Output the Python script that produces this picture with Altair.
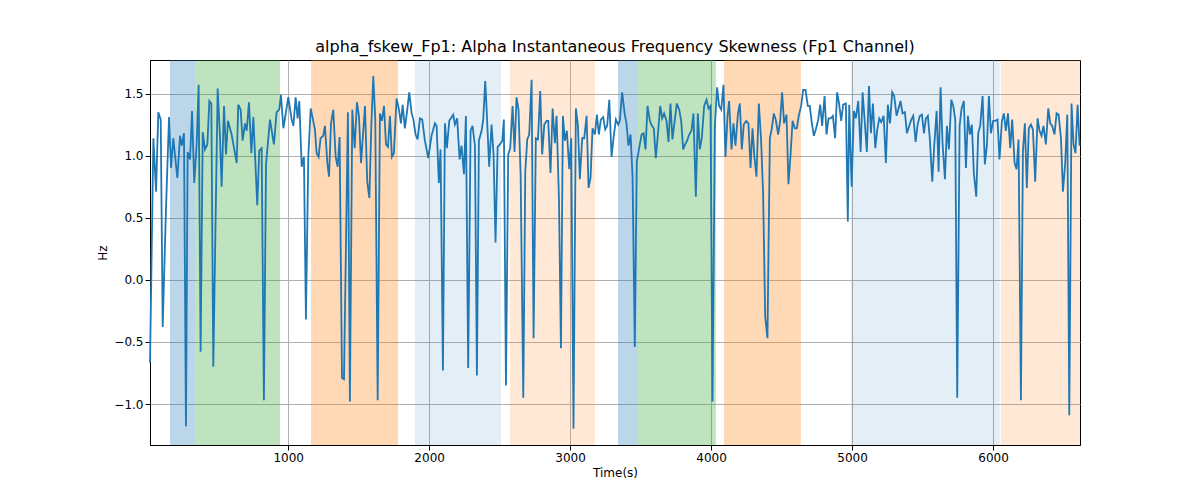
import altair as alt
import pandas as pd

pts = [
(20,-0.67),(44,1.14),(63,0.71),(79,1.35),(96,1.29),(110,-0.38),(133,0.56),(155,1.31),(169,0.90),(185,1.14),
(214,0.82),(233,1.16),(245,1.08),(261,1.18),(275,-1.18),(287,1.03),(304,0.97),(318,1.36),(334,0.78),(351,1.09),
(365,1.57),(379,-0.58),(394,1.19),(410,1.05),(427,1.09),(441,1.44),(455,1.42),(469,-0.70),(500,1.54),(516,1.16),
(528,0.75),(545,1.40),(559,1.01),(573,1.28),(599,1.17),(635,0.94),(646,1.41),(663,1.37),(677,1.12),(694,1.26),
(706,1.20),(722,1.43),(739,1.02),(753,1.31),(781,0.60),(795,1.04),(812,1.06),(828,-0.97),(843,0.93),(871,1.29),
(899,1.09),(918,1.35),(937,1.37),(949,1.49),(966,1.22),(1001,1.47),(1025,1.29),(1037,1.24),(1053,1.47),(1067,1.30),
(1079,1.44),(1096,0.91),(1112,0.99),(1126,-0.32),(1143,0.99),(1160,1.38),(1190,1.21),(1202,1.02),(1216,0.99),(1230,1.14),
(1249,1.16),(1261,1.24),(1278,0.94),(1290,0.83),(1304,1.26),(1320,1.37),(1337,0.99),(1351,0.91),(1365,1.15),(1382,-0.79),
(1396,-0.80),(1424,1.35),(1438,-0.98),(1455,1.37),(1472,1.06),(1488,1.43),(1502,1.32),(1517,0.94),(1545,1.40),(1561,0.79),
(1576,0.66),(1590,1.24),(1604,1.64),(1618,1.29),(1635,-0.97),(1651,1.34),(1665,1.28),(1680,1.40),(1694,1.09),(1708,1.07),
(1722,1.32),(1736,0.99),(1750,1.02),(1769,1.46),(1786,1.37),(1800,1.26),(1812,1.41),(1828,1.22),(1845,1.37),(1859,1.51),
(1876,1.34),(1887,1.30),(1904,1.17),(1918,1.13),(1935,1.30),(1951,1.29),(1970,1.12),(1994,0.98),(2017,1.16),(2041,1.26),
(2053,1.24),(2069,0.78),(2081,1.05),(2098,-0.73),(2112,1.26),(2126,1.06),(2143,1.28),(2171,1.33),(2183,1.25),(2199,1.30),
(2216,0.97),(2230,1.08),(2247,0.85),(2261,1.32),(2277,-0.71),(2294,1.20),(2308,1.24),(2325,1.08),(2339,-0.77),(2353,1.12),
(2372,1.20),(2384,1.29),(2398,1.60),(2408,1.37),(2426,0.91),(2443,1.25),(2457,1.01),(2471,0.30),(2486,1.07),(2502,1.09),
(2519,1.12),(2530,1.29),(2545,-0.85),(2561,1.01),(2575,1.06),(2592,1.40),(2606,1.03),(2620,1.47),(2634,1.37),(2649,0.85),
(2668,-0.95),(2682,0.87),(2696,1.13),(2710,1.17),(2727,1.61),(2741,-0.47),(2757,1.14),(2772,1.13),(2788,1.52),(2802,1.01),
(2817,1.25),(2833,1.28),(2845,1.28),(2861,0.86),(2876,1.38),(2892,1.10),(2904,1.32),(2921,0.65),(2935,-0.55),(2949,1.32),
(2963,1.12),(2977,1.20),(2994,0.89),(3008,1.14),(3024,-1.20),(3041,1.38),(3055,1.25),(3069,0.81),(3086,1.14),(3100,1.14),
(3117,1.32),(3131,0.74),(3145,0.82),(3159,1.22),(3176,1.17),(3190,1.33),(3204,1.17),(3218,1.29),(3235,1.31),(3249,1.21),
(3263,1.24),(3278,1.45),(3294,0.99),(3310,1.16),(3325,1.29),(3341,1.25),(3353,1.28),(3369,1.51),(3388,1.33),(3400,1.26),
(3414,1.08),(3429,1.17),(3443,0.83),(3459,-0.54),(3473,0.95),(3490,1.06),(3507,1.17),(3521,1.18),(3535,1.05),(3549,1.40),
(3566,1.28),(3580,1.24),(3594,1.22),(3608,0.98),(3625,1.20),(3639,1.40),(3653,1.30),(3667,1.34),(3684,1.28),(3698,1.11),
(3712,1.42),(3726,1.13),(3743,1.29),(3757,1.42),(3774,1.37),(3788,1.28),(3802,1.05),(3816,1.09),(3830,1.12),(3845,1.17),
(3861,1.20),(3875,1.34),(3892,0.67),(3906,1.34),(3920,1.05),(3934,1.14),(3951,1.40),(3968,1.45),(3982,1.38),(3996,1.40),
(4010,-0.98),(4027,1.24),(4043,1.55),(4057,1.40),(4072,1.37),(4088,1.57),(4102,0.99),(4117,1.32),(4128,1.44),(4145,1.05),
(4159,1.26),(4173,1.08),(4190,1.33),(4204,1.42),(4218,1.05),(4232,1.25),(4249,1.28),(4265,1.26),(4280,0.90),(4294,1.22),
(4308,0.98),(4322,0.83),(4339,1.42),(4355,1.12),(4369,0.70),(4384,-0.30),(4400,-0.47),(4417,1.14),(4431,1.22),(4445,1.34),
(4459,1.29),(4476,1.17),(4490,1.28),(4504,1.51),(4518,1.26),(4535,1.33),(4549,0.77),(4564,1.01),(4578,1.28),(4594,1.22),
(4608,1.22),(4622,1.32),(4639,1.40),(4653,1.53),(4670,1.53),(4686,1.40),(4700,1.40),(4715,1.26),(4729,1.16),(4743,1.21),
(4760,1.29),(4774,1.41),(4788,1.24),(4805,1.48),(4819,1.17),(4833,1.30),(4849,1.30),(4864,1.32),(4880,1.14),(4894,1.51),
(4908,1.42),(4923,1.28),(4937,1.41),(4956,1.42),(4970,0.47),(4980,1.41),(4997,0.75),(5013,1.36),(5027,1.30),(5044,1.44),
(5061,1.03),(5075,1.51),(5091,1.26),(5105,1.03),(5120,1.56),(5134,1.18),(5148,1.42),(5165,1.06),(5179,1.21),(5193,1.30),
(5207,1.27),(5224,1.32),(5240,0.94),(5254,1.41),(5269,1.26),(5285,1.51),(5299,1.48),(5316,1.32),(5330,1.38),(5344,1.44),
(5358,1.34),(5375,1.35),(5389,1.18),(5406,1.24),(5420,1.29),(5434,1.32),(5451,1.11),(5465,1.25),(5481,1.32),(5496,1.33),
(5510,1.18),(5524,1.30),(5538,1.32),(5552,1.13),(5569,0.79),(5583,1.08),(5600,1.36),(5614,0.87),(5628,1.55),(5642,1.10),
(5659,0.81),(5673,1.24),(5687,1.05),(5704,1.45),(5718,1.40),(5732,1.29),(5746,-0.95),(5763,1.24),(5777,1.38),(5793,1.44),
(5808,0.90),(5822,1.32),(5836,1.17),(5850,1.25),(5864,0.86),(5881,0.67),(5895,1.18),(5909,1.24),(5926,1.48),(5942,0.93),
(5957,1.09),(5971,1.48),(5985,1.18),(6001,1.28),(6018,1.28),(6032,1.29),(6046,0.97),(6063,1.28),(6077,1.34),(6091,1.20),
(6106,1.34),(6122,1.06),(6136,1.29),(6153,0.94),(6167,0.89),(6181,1.13),(6198,-0.97),(6212,1.03),(6226,1.26),(6240,0.74),
(6254,1.22),(6269,1.25),(6283,1.21),(6299,0.79),(6316,1.30),(6330,1.20),(6344,1.16),(6358,1.24),(6375,1.09),(6392,1.38),
(6406,1.26),(6420,1.24),(6436,1.17),(6451,1.34),(6465,1.33),(6482,1.14),(6496,0.71),(6512,0.94),(6527,1.33),(6541,-1.09),
(6557,1.42),(6571,1.09),(6585,1.02),(6600,1.41),(6614,1.08),
]
times = [p[0] for p in pts]
values = [p[1] for p in pts]

band_start = [162, 340, 1162, 1900, 2573, 3340, 3481, 4091, 4992, 6055]
band_end = [340, 942, 1779, 2510, 3176, 3481, 4034, 4637, 6048, 6617]
band_color = ["#1f77b4", "#2ca02c", "#ff7f0e", "#1f77b4", "#ff7f0e",
              "#1f77b4", "#2ca02c", "#ff7f0e", "#1f77b4", "#ff7f0e"]
band_opacity = [0.3, 0.3, 0.3, 0.12, 0.17, 0.3, 0.3, 0.3, 0.12, 0.17]

df = pd.DataFrame({"t": times, "v": values})
bands = pd.DataFrame({"s": band_start, "e": band_end, "c": band_color, "o": band_opacity})

xs = alt.Scale(domain=[20, 6617], nice=False, zero=False)
ys = alt.Scale(domain=[-1.33, 1.77], nice=False, zero=False)

rects = alt.Chart(bands).mark_rect().encode(
    x=alt.X("s:Q", scale=xs),
    x2="e:Q",
    color=alt.Color("c:N", scale=None),
    opacity=alt.Opacity("o:Q", scale=None),
)

line = alt.Chart(df).mark_line(color="#1f77b4", strokeWidth=1.8).encode(
    x=alt.X("t:Q", scale=xs, title="Time(s)",
            axis=alt.Axis(values=[1000, 2000, 3000, 4000, 5000, 6000], format="d", grid=True, gridColor="#b0b0b0")),
    y=alt.Y("v:Q", scale=ys, title="Hz",
            axis=alt.Axis(values=[-1.0, -0.5, 0.0, 0.5, 1.0, 1.5], format=".1f", grid=True, gridColor="#b0b0b0")),
)

chart = alt.layer(rects, line).properties(
    width=930, height=385,
    title=alt.Title("alpha_fskew_Fp1: Alpha Instantaneous Frequency Skewness (Fp1 Channel)",
                    fontSize=16, fontWeight="normal", font="DejaVu Sans", color="black"),
    autosize=alt.AutoSizeParams(type="none"),
    padding={"left": 142, "top": 52, "right": 5, "bottom": 50},
).configure_view(stroke="black", strokeWidth=1).configure_axis(
    labelFont="DejaVu Sans", titleFont="DejaVu Sans", labelFontSize=12, titleFontSize=12,
    titleFontWeight="normal", labelColor="black", titleColor="black",
    domainColor="black", tickColor="black", gridOpacity=1, gridWidth=1,
).configure_title(offset=5)

chart.save("out.html", embed_options={"renderer": "svg", "actions": False})
